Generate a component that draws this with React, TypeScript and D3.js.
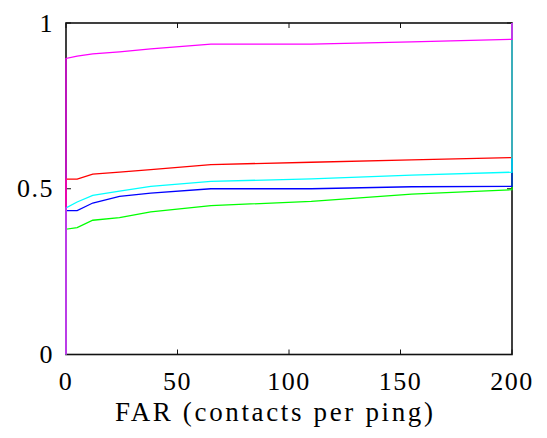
import React, { useEffect, useRef } from "react";
import * as d3 from "d3";

// FAR sample points shared by every curve
const farValues = [0, 5, 12, 24, 38, 65, 110, 155, 200];

const greenSeries = [0.378, 0.383, 0.405, 0.413, 0.43, 0.449, 0.462, 0.484, 0.497];
const blueSeries = [0.434, 0.434, 0.457, 0.477, 0.487, 0.5, 0.5, 0.506, 0.507];
const redSeries = [0.529, 0.529, 0.544, 0.55, 0.558, 0.573, 0.58, 0.587, 0.594];
const cyanSeries = [0.442, 0.46, 0.48, 0.493, 0.507, 0.522, 0.53, 0.541, 0.55];
const magentaSeries = [0.893, 0.9, 0.907, 0.913, 0.922, 0.936, 0.936, 0.943, 0.951];

const xTicks = [0, 50, 100, 150, 200];
const yTicks = [0, 0.5, 1];

const series = [
  { color: "#00ff00", values: greenSeries },
  { color: "#0000ff", values: blueSeries },
  { color: "#ff0000", values: redSeries },
  { color: "#00ffff", values: cyanSeries },
  { color: "#ff00ff", values: magentaSeries },
];

const App = () => {
  const svgRef = useRef<SVGSVGElement>(null);

  useEffect(() => {
    const w = 547;
    const h = 438;
    const left = 66, right = 512, top = 23, bottom = 354.5;

    const svg = d3.select(svgRef.current);
    svg.selectAll("*").remove();
    svg.attr("width", w).attr("height", h);

    const x = d3.scaleLinear().domain([0, 200]).range([left, right]);
    const y = d3.scaleLinear().domain([0, 1]).range([bottom, top]);

    const font = "'Liberation Serif', 'DejaVu Serif', Tinos, 'Noto Serif', FreeSerif, Times, serif";

    // frame
    svg.append("rect")
      .attr("x", left).attr("y", top)
      .attr("width", right - left).attr("height", bottom - top)
      .attr("fill", "none")
      .attr("stroke", "#111")
      .attr("stroke-width", 1.6);

    // inside ticks
    const tl = 5;
    xTicks.forEach(t => {
      svg.append("line").attr("x1", x(t)).attr("x2", x(t))
        .attr("y1", bottom).attr("y2", bottom - tl).attr("stroke", "#111");
      svg.append("line").attr("x1", x(t)).attr("x2", x(t))
        .attr("y1", top).attr("y2", top + tl).attr("stroke", "#111");
      svg.append("text")
        .attr("x", x(t)).attr("y", 390)
        .attr("text-anchor", "middle")
        .style("font-family", font)
        .style("font-size", "26px")
        .style("letter-spacing", "1.5px")
        .text(t);
    });

    yTicks.forEach(t => {
      svg.append("line").attr("x1", left).attr("x2", left + tl)
        .attr("y1", y(t)).attr("y2", y(t)).attr("stroke", "#111");
      svg.append("line").attr("x1", right).attr("x2", right - tl)
        .attr("y1", y(t)).attr("y2", y(t)).attr("stroke", "#111");
      svg.append("text")
        .attr("x", 54).attr("y", y(t) + 8.5)
        .attr("text-anchor", "end")
        .style("font-family", font)
        .style("font-size", "26px")
        .style("letter-spacing", "1.5px")
        .text(t);
    });

    // curves: each runs from (0,0) up, along the samples, then up to (200,1)
    const line = d3.line<[number, number]>()
      .x(d => x(d[0]))
      .y(d => y(d[1]));

    series.forEach(s => {
      const pts: [number, number][] = [[0, 0]];
      farValues.forEach((f, i) => pts.push([f, s.values[i]]));
      pts.push([200, 1]);
      svg.append("path")
        .attr("d", line(pts))
        .attr("fill", "none")
        .attr("stroke", s.color)
        .attr("stroke-width", 1.3);
    });

    // axis label
    svg.append("text")
      .attr("x", 115).attr("y", 421)
      .style("font-family", font)
      .style("font-size", "27px")
      .attr("textLength", 318)
      .attr("lengthAdjust", "spacing")
      .text("FAR (contacts per ping)");
  }, []);

  return (
    <svg ref={svgRef} style={{ position: "absolute", left: 0, top: 0, background: "#fff" }}></svg>
  );
};

export default App;
